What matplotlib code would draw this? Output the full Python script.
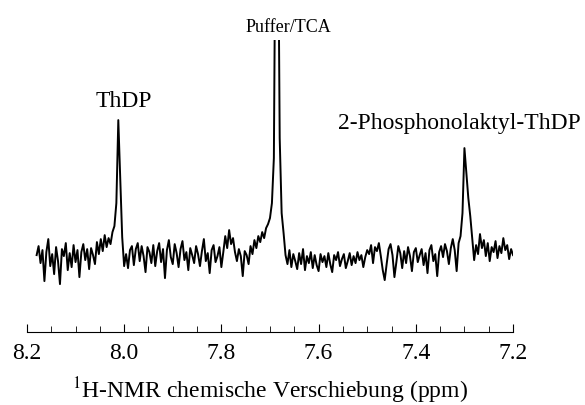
import matplotlib
matplotlib.use("Agg")
import matplotlib.pyplot as plt
from matplotlib.ticker import MultipleLocator
import numpy as np

# spectrum sampled every 0.004 ppm from 8.18 down to 7.20
ppm_start = 8.18
ppm_step = 0.004
intensity = [
    0.3, 1.2, -0.5, 0.8, -2.3, 0.6, 1.9, -0.8, 0.4, -1.6,
    1.1, -0.3, -2.6, 0.9, 0.2, 1.5, -1.2, 0.5, -0.9, 1.3,
    -0.4, 0.8, -1.9, 0.6, 1.4, -0.2, 0.9, -1.1, 1.0, 0.3,
    -0.6, 1.6, 0.4, 1.9, 0.7, 2.3, 1.1, 2.0, 1.4, 2.6,
    3.2, 5.5, 13.8, 8.0, 2.1, -0.8, 0.4, -1.0, 0.8, 1.2,
    -0.7, 0.9, 1.5, -0.3, 1.2, 0.2, -1.4, 1.1, 0.6, -0.5,
    1.3, -0.8, 0.7, 1.5, -0.4, 0.9, -2.0, 0.8, 1.8, 0.1,
    -0.6, 1.4, 0.5, -0.9, 0.9, 1.7, -0.2, 0.6, -1.2, 1.0,
    0.3, -0.5, 1.2, 0.4, -0.8, 0.7, 1.9, -0.3, 0.5, -1.5,
    0.8, 1.3, -0.4, 0.2, 1.1, -0.9, 0.6, 2.2, 1.0, 2.8,
    1.4, 2.0, 0.6, -0.3, 0.9, 0.2, -1.8, 0.7, 0.3, -0.6,
    1.2, 0.4, 1.8, 1.0, 2.2, 1.6, 2.6, 2.0, 3.0, 3.4,
    4.0, 5.5, 10.0, 40.0, 40.0, 12.0, 4.5, 2.5, 0.3, -0.6,
    0.8, -0.9, 0.4, -0.3, -1.1, 0.5, -0.6, 0.9, -1.2, 0.2,
    -0.5, 0.6, -1.0, 0.3, -0.7, -1.3, 0.4, -0.4, 0.2, -0.9,
    0.5, -0.6, -1.4, 0.3, -0.2, 0.6, -0.8, -0.1, 0.4, -1.0,
    -0.3, 0.5, -0.7, 0.2, -0.5, 0.6, -0.2, 0.3, -0.9, 0.1,
    0.8, 0.4, 1.3, -0.5, 1.1, 0.7, 1.5, 0.2, -1.2, -2.2,
    -0.6, 0.9, 1.4, 0.3, -1.9, -0.4, 1.2, 0.5, -1.0, 0.7,
    -0.5, 1.1, 0.2, -1.3, 0.6, 1.0, -0.4, 0.3, 0.9, -0.7,
    0.5, -1.5, 0.8, 1.3, -0.3, 0.4, -1.8, 0.6, 1.2, 0.1,
    1.4, 0.7, -0.6, 1.0, 1.9, 0.8, -1.3, 1.5, 2.2, 4.5,
    11.0, 8.5, 6.0, 4.2, 2.0, -0.2, 1.3, 0.4, 2.4, 1.0,
    1.8, 0.2, 1.5, -0.3, 1.1, 0.6, 1.7, 0.0, 1.2, 0.5,
    2.0, 0.8, 1.3, -0.1, 0.9, 0.3,
]

peak_labels = ["ThDP", "Puffer/TCA", "2-Phosphonolaktyl-ThDP"]
label_x = [8.0, 7.663, 7.56]
label_y = [15.1, 22.6, 12.9]
label_ha = ['center', 'center', 'left']
label_size = [17, 13, 17]

plt.rcParams['font.family'] = ['Liberation Serif', 'DejaVu Serif']
plt.rcParams['mathtext.fontset'] = 'stix'

ppm = ppm_start - ppm_step * np.arange(len(intensity))

fig = plt.figure(figsize=(5.85, 4.05), dpi=100)
ax = fig.add_axes([0.046, 0.18, 0.831, 0.721])
ax.plot(ppm, intensity, color='black', lw=1.4)

for label, x, y, ha, size in zip(peak_labels, label_x, label_y, label_ha, label_size):
    ax.text(x, y, label, ha=ha, va='baseline', fontsize=size, clip_on=False)

ax.set_xlim(8.2, 7.2)
ax.set_ylim(-7.4, 21.8)
ax.xaxis.set_major_locator(MultipleLocator(0.2))
ax.xaxis.set_minor_locator(MultipleLocator(0.05))
ax.xaxis.set_major_formatter(lambda x, _: f"{x:.1f}")
ax.tick_params(axis='x', which='both', direction='in', labelsize=17, pad=8)
ax.tick_params(axis='x', which='major', length=6)
ax.tick_params(axis='x', which='minor', length=4)
ax.set_yticks([])
for side in ['left', 'right', 'top']:
    ax.spines[side].set_visible(False)

ax.set_xlabel(r"$^{1}$H-NMR chemische Verschiebung (ppm)", fontsize=17, labelpad=8)

plt.savefig('out.png', dpi=100)
